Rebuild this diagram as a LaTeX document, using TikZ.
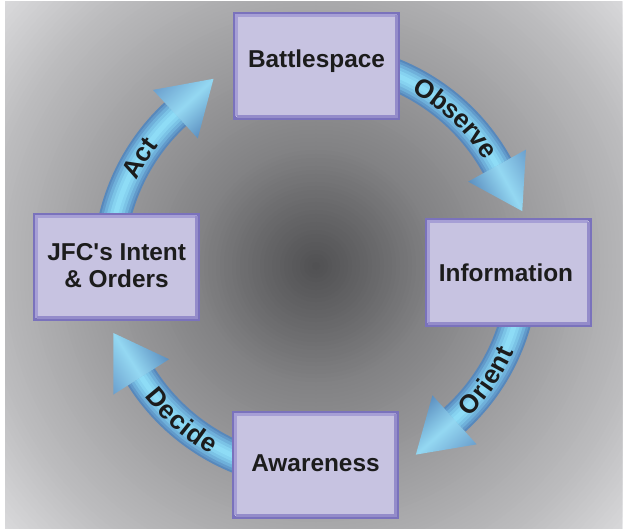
\documentclass[tikz,border=0pt]{standalone}
\usepackage{fontspec}
\setmainfont{Liberation Sans}[Ligatures=TeXOff]
\usetikzlibrary{calc,decorations.text}
\definecolor{boxfill}{HTML}{C7C3E1}
\definecolor{boxline}{HTML}{7A72BC}
\definecolor{bevellt}{HTML}{A69FD5}
\definecolor{beveldk}{HTML}{948CCA}
\definecolor{tube1}{HTML}{5788BC}
\definecolor{tube2}{HTML}{629ACA}
\definecolor{tube3}{HTML}{6FB0DA}
\definecolor{tube4}{HTML}{7BC3E6}
\definecolor{tube5}{HTML}{86D2F0}
\definecolor{tube6}{HTML}{8EDCF6}
\definecolor{head1}{HTML}{6B9FCD}
\definecolor{head2}{HTML}{5C8FC0}
\definecolor{head3}{HTML}{94D8F2}
\definecolor{txt}{HTML}{1C1C1C}
\tikzset{
  boxnode/.style={rectangle, fill=boxfill, draw=boxline, line width=2pt,
    minimum width=163pt, minimum height=104pt, inner sep=0pt},
  lbl/.style={font=\bfseries\fontsize{24.4}{27.3}\selectfont, text=txt, inner sep=0pt, anchor=base},
  arclbl/.style={decorate, decoration={text along path, text align=center, raise=-8.5pt,
    text={|\bfseries\fontsize{26}{26}\selectfont\color{txt}|#1}}}
}
\newcommand\tubearc[2]{%
  \foreach \w/\c in {32/tube1,28/tube2,23/tube3,17/tube4,11/tube5,5/tube6}{
    \draw[line width=\w pt, color=\c] ($(C)+(#1:207)$) arc[start angle=#1, end angle=#2, radius=207];
  }}
\newcommand\tubehead[1]{%
  \begin{scope}[transform canvas={shift={($(C)+(#1:207)$)}, rotate=#1-90}]
    \shade[top color=head1, bottom color=head2, middle color=head3] (0,33) -- (52,0) -- (0,-33) -- cycle;
  \end{scope}}
\newcommand\bevel[1]{%
  \draw[bevellt, line width=3pt] ([shift={(2.5,2.5)}]#1.south west) -- ([shift={(2.5,-2.5)}]#1.north west) -- ([shift={(-2.5,-2.5)}]#1.north east);
  \draw[beveldk, line width=3pt] ([shift={(-2.5,-2.5)}]#1.north east) -- ([shift={(-2.5,2.5)}]#1.south east) -- ([shift={(2.5,2.5)}]#1.south west);
  \draw[boxline, line width=2pt] (#1.south west) rectangle (#1.north east);}
\begin{document}
\begin{tikzpicture}[x=1pt,y=1pt]
\useasboundingbox (0,0) rectangle (623,-529);
\fill[white] (0,0) rectangle (623,-529);
\coordinate (C) at (316,-266);
\begin{scope}
  \clip (5,-2) rectangle (622,-529);
  \foreach \r in {424,420,...,4}{
    \pgfmathtruncatemacro\g{\r<60 ? 80+24*\r/60 : (\r<120 ? 104+26*(\r-60)/60 : (\r<200 ? 130+22*(\r-120)/80 : (\r<260 ? 152+16*(\r-200)/60 : (\r<330 ? 168+20*(\r-260)/70 : min(224,188+34*(\r-330)/90)))))}
    \pgfmathtruncatemacro\gb{\g+2}
    \definecolor{ringc}{RGB}{\g,\g,\gb}
    \fill[ringc] (C) circle (\r);
  }
\end{scope}
% tubes
\tubearc{85}{29}
\tubearc{0}{-48}
\tubearc{-95}{-147.6}
\tubearc{175}{132.8}
% heads
\tubehead{29}
\tubehead{-48}
\tubehead{-147.6}
\tubehead{132.8}
% arc labels
\path[arclbl=Observe] ($(C)+(76.6:207)$) arc[start angle=76.6, end angle=16.6, radius=207];
\path[arclbl=Orient] ($(C)+(-64:207)$) arc[start angle=-64, end angle=-4, radius=207];
\path[arclbl=Decide] ($(C)+(-161:207)$) arc[start angle=-161, end angle=-101, radius=207];
\path[arclbl=Act] ($(C)+(178.5:207)$) arc[start angle=178.5, end angle=118.5, radius=207];
% boxes
\node[boxnode] (bs) at (316.5,-66) {};
\node[boxnode] (info) at (508,-272.5) {};
\node[boxnode] (jfc) at (116.5,-267) {};
\node[boxnode] (aw) at (315.5,-464.5) {};
\bevel{bs}\bevel{info}\bevel{jfc}\bevel{aw}
\node[lbl] (tbs) at (316.5,-67.7) {Battlespace};
\node[lbl] (tinfo) at (506,-281.7) {Information};
\node[lbl] (tjfc1) at (116.7,-260.4) {JFC's Intent};
\node[lbl] (tjfc2) at (116.5,-287.7) {\& Orders};
\node[lbl] (taw) at (315.5,-471.7) {Awareness};
\end{tikzpicture}
\end{document}
